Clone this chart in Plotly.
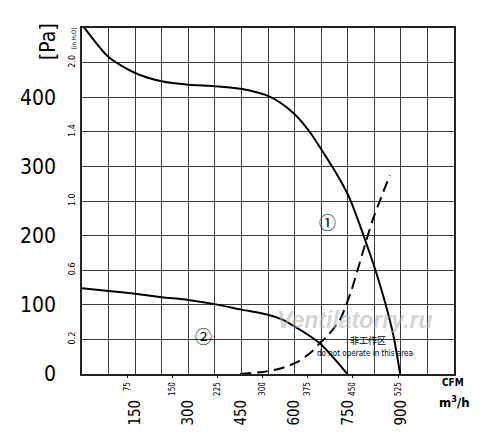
import plotly.graph_objects as go

# ---- data (airflow in m3/h, pressure in Pa) ----
curve1_q = [0, 75, 150, 225, 300, 375, 452, 525, 560, 601, 644, 681, 720, 740, 757, 778, 799, 827, 860, 880, 898]
curve1_p = [505, 458, 435, 423, 418, 416, 412, 402, 392, 375, 349, 320, 288, 270, 252, 224, 194, 152, 95, 53, 0]

curve2_q = [0, 75, 150, 225, 300, 375, 450, 522, 564, 596, 640, 672, 709, 749]
curve2_p = [124, 120, 116, 111, 107, 101, 93, 86, 79, 70, 56, 44, 24, 0]

system_q = [446, 511, 560, 607, 650, 672, 691, 709, 728, 742, 760, 776, 799, 820, 845, 869]
system_p = [0, 3, 8, 17, 33, 45, 54, 65, 78, 95, 120, 147, 187, 222, 256, 287]

m3h_ticks = [150, 300, 450, 600, 750, 900]
cfm_ticks = [75, 150, 225, 300, 375, 450, 525]
pa_ticks = [0, 100, 200, 300, 400]
inh2o_labels = ["0.2", "0.6", "1.0", "1.4", "2.0"]
inh2o_pos = [50, 150, 250, 350, 450]

Q_MAX = 1050
P_MAX = 500
M3H_PER_CFM = 1.699

NARROW = "DejaVu Sans Condensed, Liberation Sans Narrow, Liberation Sans, sans-serif"
GRID = "#3a3a3a"

# page body has an 8px default margin; figure is offset to compensate
OFF = 8
L, T, PW, PH = 82 - OFF, 28 - OFF, 372, 346
W, H = 484, 424

fig = go.Figure()
fig.add_trace(go.Scatter(x=curve1_q, y=curve1_p, mode="lines", line=dict(color="black", width=2, shape="spline", smoothing=0.7), showlegend=False, hoverinfo="skip"))
fig.add_trace(go.Scatter(x=curve2_q, y=curve2_p, mode="lines", line=dict(color="black", width=2, shape="spline", smoothing=0.7), showlegend=False, hoverinfo="skip"))
fig.add_trace(go.Scatter(x=system_q, y=system_p, mode="lines", line=dict(color="black", width=2, shape="spline", smoothing=0.7, dash="11px,6px"), showlegend=False, hoverinfo="skip"))

# invisible trace to activate the CFM axis
fig.add_trace(go.Scatter(x=[0, Q_MAX / M3H_PER_CFM], y=[0, 0], xaxis="x2", yaxis="y2", mode="lines", line=dict(width=0), opacity=0, showlegend=False, hoverinfo="skip"))

all_q = list(range(0, Q_MAX + 1, 75))
all_p = list(range(0, P_MAX + 1, 50))

fig.update_layout(
    width=W, height=H,
    margin=dict(l=L, r=W - L - PW, t=T, b=H - T - PH),
    paper_bgcolor="white", plot_bgcolor="white",
    font=dict(family=NARROW, color="black"),
    xaxis=dict(
        range=[0, Q_MAX], tickmode="array", tickvals=all_q,
        ticktext=[str(v) if v in m3h_ticks else "" for v in all_q],
        tickangle=-90, tickfont=dict(size=15, family=NARROW),
        ticks="", ticklabelstandoff=18, automargin=False,
        showgrid=True, gridcolor=GRID, gridwidth=1.3,
        showline=True, linecolor="#222", linewidth=1.6, mirror=True,
        zeroline=False, fixedrange=True,
    ),
    yaxis=dict(
        range=[0, P_MAX], tickmode="array", tickvals=all_p,
        ticktext=[str(v) if v in pa_ticks else "" for v in all_p],
        tickfont=dict(size=21, family=NARROW),
        ticks="", ticklabelstandoff=20, automargin=False,
        showgrid=True, gridcolor=GRID, gridwidth=1.3,
        showline=True, linecolor="#222", linewidth=1.6, mirror=True,
        zeroline=False, fixedrange=True,
    ),
    xaxis2=dict(
        range=[0, Q_MAX / M3H_PER_CFM], overlaying="x", side="bottom", anchor="y",
        tickmode="array", tickvals=cfm_ticks, ticktext=[str(v) for v in cfm_ticks],
        tickangle=-90, tickfont=dict(size=8, family=NARROW),
        ticks="outside", ticklen=3, tickcolor="black", ticklabelstandoff=1, automargin=False,
        showgrid=False, showline=False, zeroline=False, fixedrange=True,
    ),
    yaxis2=dict(
        range=[0, P_MAX], overlaying="y", side="left", anchor="x",
        tickmode="array", tickvals=inh2o_pos, ticktext=inh2o_labels,
        tickangle=-90, tickfont=dict(size=9, family=NARROW),
        ticks="", ticklabelstandoff=4, automargin=False,
        showgrid=False, showline=False, zeroline=False, fixedrange=True,
    ),
)

ann = [
    dict(text="[Pa]", x=48, y=42, textangle=-90, font=dict(size=21)),
    dict(text="[in.H\u2082O]", x=74, y=39, textangle=-90, font=dict(size=6)),
    dict(text="<b>CFM</b>", x=453, y=383, font=dict(size=10)),
    dict(text="<b>m<sup>3</sup>/h</b>", x=454, y=402, font=dict(size=13)),
]
for a in ann:
    fig.add_annotation(xref="paper", yref="paper", x=(a["x"] - 82) / PW,
                       y=(374 - a["y"]) / PH, text=a["text"], showarrow=False,
                       textangle=a.get("textangle", 0), font=a["font"],
                       xanchor="center", yanchor="middle")

fig.add_annotation(x=694, y=220, text="\u2460", showarrow=False, font=dict(size=17, family="Noto Sans CJK SC, DejaVu Sans"))
fig.add_annotation(x=344, y=56, text="\u2461", showarrow=False, font=dict(size=17, family="Noto Sans CJK SC, DejaVu Sans"))
fig.add_annotation(x=808, y=48, text="非工作区", showarrow=False, font=dict(size=9, family="Noto Sans CJK SC"))
fig.add_annotation(x=799, y=30, text="do not operate in this area", showarrow=False, font=dict(size=8, family=NARROW))
fig.add_annotation(x=771, y=78, text="<b><i>Ventilatorry.ru</i></b>", showarrow=False,
                   font=dict(size=23, family="Liberation Sans, Arial, sans-serif", color="rgba(175,175,175,0.55)"))

fig.write_html("out.html")
